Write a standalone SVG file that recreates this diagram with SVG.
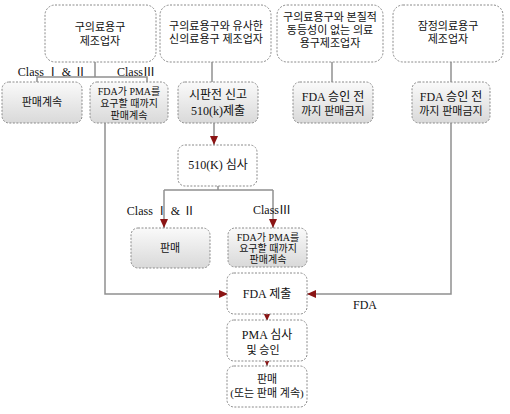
<svg xmlns="http://www.w3.org/2000/svg" width="510" height="414" viewBox="0 0 510 414">
<defs>
<linearGradient id="g" x1="0" y1="0" x2="0" y2="1">
<stop offset="0" stop-color="#fafafa"/>
<stop offset="1" stop-color="#d9d9d9"/>
</linearGradient>
<marker id="ah" markerWidth="9" markerHeight="8" refX="9" refY="4" orient="auto" markerUnits="userSpaceOnUse">
<path d="M0,0 L9,4 L0,8 Z" fill="#8b1414"/>
</marker>
</defs>
<style>
.b{fill:#fff;stroke:#8a8a8a;stroke-width:1;stroke-dasharray:2 1.5}
.s{fill:url(#g);stroke:#8a8a8a;stroke-width:1;stroke-dasharray:2 1.5}
.c{fill:none;stroke:#909090;stroke-width:1.5}
.a{fill:none;stroke:#909090;stroke-width:1.5;marker-end:url(#ah)}
text{font-family:"Liberation Serif","Noto Sans CJK KR",serif;font-size:11px;fill:#111;text-anchor:middle}
.l{font-size:12px}
.t{font-size:10px}
</style>
<g id="connectors">
<path class="c" d="M95,62 V77 M37,82 V77 H147 V82"/>
<path class="c" d="M212,62 V82"/>
<path class="c" d="M332,62 V82"/>
<path class="c" d="M451,62 V82"/>
<path class="a" d="M214,123 V145"/>
<path class="c" d="M218,186 V190 M164,190 H273"/>
<path class="a" d="M164,190 V228"/>
<path class="a" d="M273,190 V228"/>
<path class="a" d="M105,123 V294 H228"/>
<path class="a" d="M451,123 V294 H307"/>
<path class="a" d="M267,313 V321"/>
<path class="a" d="M267,360 V366"/>
</g>
<g id="n1"><rect class="b" x="45" y="5" width="111" height="57" rx="10"/><text x="100" y="31">구의료용구</text><text x="100" y="45">제조업자</text></g>
<g id="n2"><rect class="b" x="160" y="5" width="111" height="57" rx="10"/><text x="216" y="30">구의료용구와 유사한</text><text x="216" y="43">신의료용구 제조업자</text></g>
<g id="n3"><rect class="b" x="277" y="5" width="106" height="57" rx="10"/><text x="330" y="21">구의료용구와 본질적</text><text x="330" y="34">동등성이 없는 의료</text><text x="330" y="47">용구제조업자</text></g>
<g id="n4"><rect class="b" x="393" y="5" width="110" height="57" rx="10"/><text x="448" y="30">잠정의료용구</text><text x="448" y="43">제조업자</text></g>
<text x="52" y="76" class="l">Class Ⅰ &amp; Ⅱ</text>
<text x="136" y="76" class="l">ClassⅢ</text>
<g id="n5"><rect class="s" x="2" y="82" width="80" height="41" rx="7"/><text x="42" y="106">판매계속</text></g>
<g id="n6"><rect class="s" x="90" y="82" width="78" height="41" rx="7"/><text x="129" y="95" class="t">FDA가 PMA를</text><text x="129" y="107" class="t">요구할 때까지</text><text x="129" y="119" class="t">판매계속</text></g>
<g id="n7"><rect class="s" x="178" y="82" width="80" height="41" rx="7"/><text x="218" y="99" class="l">시판전 신고</text><text x="218" y="115" class="l">510(k)제출</text></g>
<g id="n8"><rect class="s" x="293" y="82" width="80" height="41" rx="7"/><text x="333" y="101" class="l">FDA 승인 전</text><text x="333" y="115">까지 판매금지</text></g>
<g id="n9"><rect class="s" x="412" y="82" width="78" height="41" rx="7"/><text x="451" y="101" class="l">FDA 승인 전</text><text x="451" y="115">까지 판매금지</text></g>
<g id="n10"><rect class="b" x="178" y="145" width="79" height="41" rx="7"/><text x="218" y="169" class="l">510(K) 심사</text></g>
<text x="161" y="215" class="l">Class Ⅰ &amp; Ⅱ</text>
<text x="272" y="214" class="l">ClassⅢ</text>
<g id="n11"><rect class="s" x="131" y="228" width="79" height="40" rx="7"/><text x="170" y="252">판매</text></g>
<g id="n12"><rect class="s" x="228" y="228" width="79" height="39" rx="7"/><text x="268" y="241" class="t">FDA가 PMA를</text><text x="268" y="252" class="t">요구할 때까지</text><text x="268" y="263" class="t">판매계속</text></g>
<g id="n13"><rect class="b" x="227" y="273" width="80" height="41" rx="7"/><text x="267" y="298" class="l">FDA 제출</text></g>
<g id="n14"><rect class="b" x="227" y="320" width="80" height="41" rx="7"/><text x="267" y="339" class="l">PMA 심사</text><text x="263" y="354">및 승인</text></g>
<g id="n15"><rect class="b" x="227" y="366" width="80" height="41" rx="7"/><text x="267" y="383">판매</text><text x="267" y="397">(또는 판매 계속)</text></g>
<text x="365" y="309" class="l">FDA</text>
</svg>
